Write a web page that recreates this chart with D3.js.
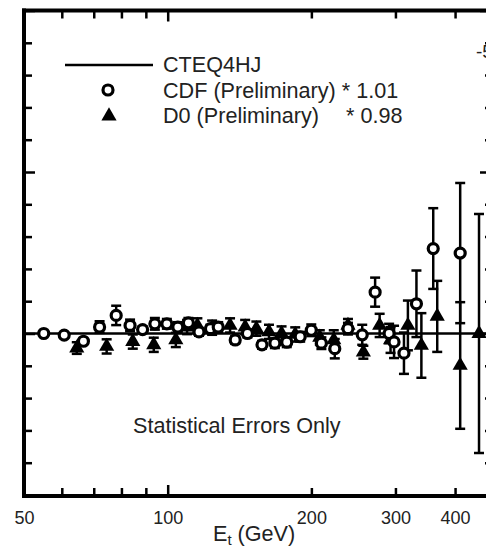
<!DOCTYPE html>
<html><head><meta charset="utf-8">
<script src="https://cdn.jsdelivr.net/npm/d3@7"></script>
<style>
html,body{margin:0;padding:0;background:#fff;}
svg{display:block;font-family:"Liberation Sans",Arial,sans-serif;}
</style></head>
<body>
<svg id="chart" width="486" height="548"></svg>
<script>
// ---- data (ratio (Data - Theory)/Theory vs Et in GeV) ----
const cdfEt  = [55, 60.7, 66.6, 72, 78, 83.4, 88.6, 94, 99.6, 105, 110.5, 116.3, 122.9, 127.6, 138.5, 146.9, 157.6, 167.7, 177.6, 189.5, 199.9, 209.9, 223.9, 238.6, 255.6, 272, 291, 298, 312.6, 332, 360, 410];
const cdfVal = [0.000, -0.005, -0.024, 0.020, 0.056, 0.025, 0.012, 0.030, 0.030, 0.020, 0.033, 0.005, 0.015, 0.020, -0.020, 0.000, -0.035, -0.030, -0.027, -0.010, 0.010, -0.030, -0.047, 0.015, -0.004, 0.128, 0.000, -0.026, -0.061, 0.092, 0.263, 0.249];
const cdfErr = [0.005, 0.008, 0.008, 0.018, 0.030, 0.018, 0.010, 0.018, 0.015, 0.015, 0.015, 0.012, 0.012, 0.015, 0.012, 0.012, 0.012, 0.015, 0.015, 0.015, 0.018, 0.018, 0.030, 0.018, 0.031, 0.045, 0.030, 0.050, 0.064, 0.103, 0.125, 0.217];

const d0Et  = [64.5, 74.5, 84.5, 93.5, 104, 109.8, 115.4, 123.9, 135.1, 145.3, 153.4, 163, 173.2, 185, 208.3, 222.8, 238.6, 257, 278, 293, 318.6, 340, 367, 410, 449];
const d0Val = [-0.045, -0.040, -0.025, -0.035, -0.020, 0.020, 0.025, 0.018, 0.025, 0.020, 0.015, 0.005, 0.000, -0.003, -0.012, -0.020, 0.025, -0.058, 0.025, -0.020, 0.025, -0.037, 0.053, -0.099, 0.000];
const d0Err = [0.018, 0.022, 0.022, 0.022, 0.022, 0.022, 0.022, 0.022, 0.022, 0.022, 0.022, 0.022, 0.022, 0.022, 0.022, 0.030, 0.020, 0.020, 0.036, 0.040, 0.077, 0.100, 0.110, 0.196, 0.370];

const xTickLabels = [50, 100, 200, 300, 400];
const xMinorTicks = [60, 70, 80, 90, 200, 300, 400];
const xMajorTicks = [100];
const yMinorTicks = [-0.4, -0.3, -0.2, -0.1, 0.1, 0.2, 0.3, 0.4, 0.6, 0.7, 0.8, 0.9];
const yMajorTicks = [-0.5, 0, 0.5, 1.0];

const legendItems = ["CTEQ4HJ", "CDF (Preliminary) * 1.01", "D0 (Preliminary)", "* 0.98"];
const noteText = "Statistical Errors Only";

// ---- scales ----
const svg = d3.select("#chart");
const x = d3.scaleLog().domain([50, 470]).range([24, 488.5]);
const y = d3.scaleLinear().domain([-0.5, 1.0]).range([495, 10.5]);
const X0 = 24, XR = 492, YT = 10.5, YB = 496;
const ink = "#000";

// ---- axes ticks ----
function styleAxis(g){ g.select(".domain").remove(); g.selectAll("line").attr("stroke", ink).attr("stroke-width", 2.5); }
svg.append("g").attr("transform", `translate(0,${YB})`).call(d3.axisBottom(x).tickValues(xMinorTicks).tickSize(-8).tickFormat("")).call(styleAxis);
svg.append("g").attr("transform", `translate(0,${YB})`).call(d3.axisBottom(x).tickValues(xMajorTicks).tickSize(-11).tickFormat("")).call(styleAxis);
svg.append("g").attr("transform", `translate(0,${YT})`).call(d3.axisTop(x).tickValues(xMinorTicks).tickSize(-8).tickFormat("")).call(styleAxis);
svg.append("g").attr("transform", `translate(0,${YT})`).call(d3.axisTop(x).tickValues(xMajorTicks).tickSize(-11).tickFormat("")).call(styleAxis);
svg.append("g").attr("transform", `translate(${X0},0)`).call(d3.axisLeft(y).tickValues(yMinorTicks).tickSize(-8).tickFormat("")).call(styleAxis);
svg.append("g").attr("transform", `translate(${X0},0)`).call(d3.axisLeft(y).tickValues(yMajorTicks).tickSize(-11).tickFormat("")).call(styleAxis);
svg.append("g").attr("transform", `translate(${XR},0)`).call(d3.axisRight(y).tickValues(yMinorTicks).tickSize(-7).tickFormat("")).call(styleAxis);
svg.append("g").attr("transform", `translate(${XR},0)`).call(d3.axisRight(y).tickValues(yMajorTicks).tickSize(-12).tickFormat("")).call(styleAxis);

// x tick labels
const lab = svg.append("g").attr("transform", `translate(0,${YB})`)
  .call(d3.axisBottom(x).tickValues(xTickLabels).tickSize(0).tickPadding(15.5).tickFormat(d3.format("d")));
lab.select(".domain").remove();
lab.selectAll("text").attr("font-size", 18).attr("fill", "#222").attr("font-family", "Liberation Sans, Arial, sans-serif");

// frame
svg.append("line").attr("x1", X0).attr("x2", X0).attr("y1", YT - 2).attr("y2", YB + 2).attr("stroke", ink).attr("stroke-width", 4);
svg.append("line").attr("x1", X0 - 2).attr("x2", 500).attr("y1", YT).attr("y2", YT).attr("stroke", ink).attr("stroke-width", 4);
svg.append("line").attr("x1", X0 - 2).attr("x2", 500).attr("y1", YB).attr("y2", YB).attr("stroke", ink).attr("stroke-width", 4);

// theory line (ratio = 0)
svg.append("line").attr("x1", X0).attr("x2", 500).attr("y1", y(0)).attr("y2", y(0)).attr("stroke", ink).attr("stroke-width", 2.5);

// error bars
function errBars(ets, vals, errs){
  const g = svg.append("g").attr("stroke", ink).attr("stroke-width", 2.5);
  ets.forEach((e, i) => {
    const cx = x(e), y1 = y(vals[i] + errs[i]), y2 = y(vals[i] - errs[i]);
    g.append("line").attr("x1", cx).attr("x2", cx).attr("y1", y1).attr("y2", y2);
    g.append("line").attr("x1", cx - 5).attr("x2", cx + 5).attr("y1", y1).attr("y2", y1);
    g.append("line").attr("x1", cx - 5).attr("x2", cx + 5).attr("y1", y2).attr("y2", y2);
  });
}
errBars(d0Et, d0Val, d0Err);
errBars(cdfEt, cdfVal, cdfErr);

// D0 triangles
const tri = d3.symbol().type(d3.symbolTriangle).size(100);
svg.append("g").selectAll("path").data(d0Et).join("path")
  .attr("d", tri).attr("fill", ink)
  .attr("transform", (d, i) => `translate(${x(d)},${y(d0Val[i])})`);

// CDF circles
svg.append("g").selectAll("circle").data(cdfEt).join("circle")
  .attr("cx", d => x(d)).attr("cy", (d, i) => y(cdfVal[i]))
  .attr("r", 5).attr("fill", "#fff").attr("stroke", ink).attr("stroke-width", 3.2);

// legend
svg.append("line").attr("x1", 65).attr("x2", 153).attr("y1", 65).attr("y2", 65).attr("stroke", ink).attr("stroke-width", 2.5);
svg.append("circle").attr("cx", 108).attr("cy", 90).attr("r", 5).attr("fill", "#fff").attr("stroke", ink).attr("stroke-width", 3.2);
svg.append("path").attr("d", tri).attr("fill", ink).attr("transform", "translate(109,116)");
const lt = svg.append("g").attr("font-size", 21.6).attr("fill", "#222");
lt.append("text").attr("x", 163).attr("y", 72).text(legendItems[0]);
lt.append("text").attr("x", 163).attr("y", 98).text(legendItems[1]);
lt.append("text").attr("x", 163).attr("y", 123).text(legendItems[2]);
lt.append("text").attr("x", 346).attr("y", 123).text(legendItems[3]);

// note
svg.append("text").attr("x", 133).attr("y", 433).attr("font-size", 21.6).attr("fill", "#222").text(noteText);

// x-axis title
const xt = svg.append("text").attr("x", 213).attr("y", 541).attr("font-size", 21.6).attr("fill", "#222");
xt.append("tspan").text("E");
xt.append("tspan").attr("font-size", 15).attr("dy", 4).text("t");
xt.append("tspan").attr("dy", -4).text(" (GeV)");

// clipped label of the neighbouring axis at right edge
svg.append("text").attr("x", 476).attr("y", 58).attr("font-size", 19).attr("fill", "#222").text("-5");
</script>
</body></html>
